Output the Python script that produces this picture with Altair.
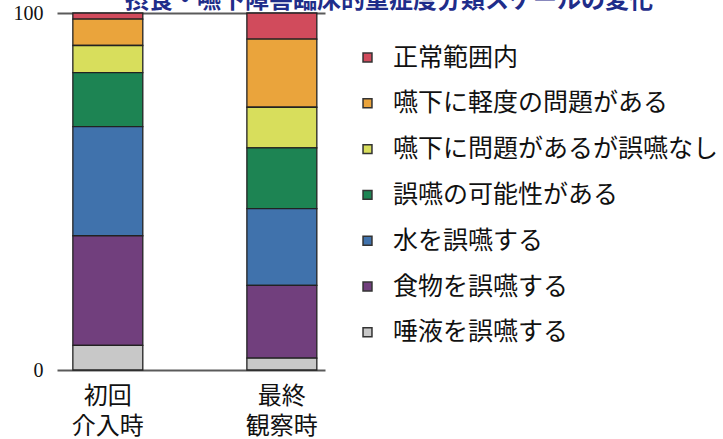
import altair as alt
import pandas as pd

title_text = ["摂食・嚥下障害臨床的重症度分類スケールの変化"]
categories = ["初回\n介入時", "最終\n観察時"]
levels = ["正常範囲内", "嚥下に軽度の問題がある", "嚥下に問題があるが誤嚥なし",
          "誤嚥の可能性がある", "水を誤嚥する", "食物を誤嚥する", "唾液を誤嚥する"]
colors = ["#d14b5c", "#eaa43c", "#d8de5c", "#1d8453", "#4072ac", "#713f7d", "#c8c8c8"]
initial_values = [1.7, 7.4, 7.6, 15.1, 30.6, 30.7, 6.9]
final_values = [7.3, 19.1, 11.4, 17.0, 21.5, 20.4, 3.3]

rows = []
for cat, vals in zip(categories, [initial_values, final_values]):
    for i, (lv, v) in enumerate(zip(levels, vals)):
        rows.append({"time": cat, "level": lv, "value": v, "order": len(levels) - i})
df = pd.DataFrame(rows)

FONT = "Noto Sans CJK JP"

bars = alt.Chart(df).mark_bar(stroke="#222222", strokeWidth=1.3).encode(
    x=alt.X("time:N", sort=categories,
            scale=alt.Scale(paddingInner=0.598, paddingOuter=0.069, align=0.66),
            axis=alt.Axis(title=None, labelExpr="split(datum.label, '\\n')",
                          labelAngle=0, labelFont=FONT, labelFontSize=24,
                          labelColor="#111111", labelLineHeight=30,
                          labelPadding=14, ticks=False, domain=False)),
    y=alt.Y("value:Q", stack="zero",
            scale=alt.Scale(domain=[0, 100], nice=False),
            axis=alt.Axis(title=None, values=[0, 100], grid=True,
                          gridColor="#5a5a5a", gridWidth=2, gridOpacity=1,
                          ticks=False, domain=False,
                          labelFont="Liberation Serif", labelFontSize=20,
                          labelColor="#111111", labelPadding=14)),
    color=alt.Color("level:N", sort=levels,
                    scale=alt.Scale(domain=levels, range=colors),
                    legend=alt.Legend(title=None, orient="none",
                                      legendX=298, legendY=32,
                                      symbolType="square", symbolSize=80,
                                      symbolStrokeColor="#333333",
                                      symbolStrokeWidth=1.5,
                                      labelFont=FONT, labelFontSize=25,
                                      labelColor="#111111", labelOffset=13,
                                      rowPadding=19.8, labelLimit=400)),
    order=alt.Order("order:Q", sort="ascending"),
)

title = alt.Chart(pd.DataFrame({"t": title_text})).mark_text(
    font=FONT, fontSize=24, fontWeight="bold", color="#1f2d8a",
    align="left", baseline="alphabetic",
).encode(text="t:N", x=alt.value(68), y=alt.value(-5))

chart = alt.layer(bars, title).properties(
    width=268, height=357,
    autosize=alt.AutoSizeParams(type="none"),
    padding={"left": 57, "top": 13, "right": 398, "bottom": 69},
).configure_view(stroke=None)

chart.save("out.html", embed_options={"renderer": "svg", "actions": False})
